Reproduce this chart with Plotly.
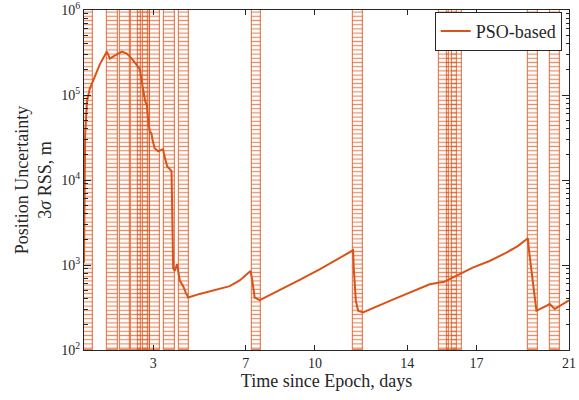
import plotly.graph_objects as go

# ---- data ----
days = [0.0, 0.02, 0.05, 0.13, 0.25, 0.38, 0.68, 0.99, 1.12, 1.33, 1.64, 1.85, 2.03, 2.24,
        2.42, 2.50, 2.57, 2.65, 2.72, 2.78, 2.85, 2.92, 2.98, 3.06, 3.21, 3.42, 3.52, 3.60,
        3.79, 3.86, 3.93, 4.03, 4.15, 4.29, 4.41, 4.51, 5.01, 5.66, 6.31, 6.74, 7.21, 7.29,
        7.39, 7.61, 8.48, 9.34, 10.20, 11.08, 11.65, 11.68, 11.77, 11.87, 12.08, 13.24,
        14.10, 14.97, 15.40, 15.57, 15.96, 16.83, 17.56, 18.29, 18.78, 19.22, 19.27, 19.59,
        20.17, 20.38, 20.96, 21.0]
pso = [1060, 5600, 34400, 84000, 119000, 144000, 228000, 324000, 268000, 291000, 324000,
       307000, 275000, 234000, 200000, 144000, 116000, 84000, 77400, 49000, 37300, 35400,
       28500, 23600, 21800, 23000, 17500, 14500, 12700, 923, 851, 1028, 650, 568, 470, 414,
       457, 509, 564, 659, 851, 650, 414, 386, 503, 668, 887, 1210, 1490, 931, 378, 289,
       276, 378, 476, 594, 621, 630, 711, 931, 1114, 1396, 1671, 2060, 1462, 289, 347, 303,
       378, 382]

win_start = [0.0, 1.01, 1.56, 2.05, 2.35, 2.57, 2.85, 3.45, 4.10, 7.26, 11.64, 15.36,
             15.71, 15.92, 19.21, 20.16]
win_end = [0.39, 1.48, 2.01, 2.46, 2.76, 2.85, 3.28, 3.93, 4.54, 7.68, 12.07, 15.79,
           16.14, 16.36, 19.64, 20.60]

x_ticks = [3, 7, 10, 14, 17, 21]
y_ticks = [1e2, 1e3, 1e4, 1e5, 1e6]
y_tick_text = ["10<sup>2</sup>", "10<sup>3</sup>", "10<sup>4</sup>", "10<sup>5</sup>",
               "10<sup>6</sup>"]
y_min, y_max = 1e2, 1e6

ORANGE = "#D95319"
FONT = "Liberation Serif, Times New Roman, serif"

fig = go.Figure()

centers = [(s + e) / 2 for s, e in zip(win_start, win_end)]
widths = [e - s for s, e in zip(win_start, win_end)]
fig.add_trace(go.Bar(
    x=centers, width=widths,
    y=[y_max - y_min] * len(centers), base=[y_min] * len(centers),
    marker=dict(color="rgba(217,83,25,0.7)",
                line=dict(color="rgba(217,83,25,0.7)", width=1.2),
                pattern=dict(shape="-", size=4.2, solidity=0.3,
                             fgcolor="rgba(217,83,25,0.65)", bgcolor="rgba(255,255,255,0)",
                             fillmode="replace")),
    showlegend=False, hoverinfo="skip",
))

fig.add_trace(go.Scatter(
    x=days, y=pso, mode="lines", name="PSO-based",
    line=dict(color=ORANGE, width=2),
))

axis_common = dict(
    showline=True, linecolor="#262626", linewidth=1, mirror="ticks",
    ticks="inside", tickcolor="#262626", showgrid=False, zeroline=False,
    automargin=False, ticklabeloverflow="allow",
    tickfont=dict(family=FONT, size=14, color="#262626"),
)

fig.update_layout(
    width=579, height=400,
    margin=dict(l=84, r=10, t=10, b=50),
    plot_bgcolor="white", paper_bgcolor="white",
    barmode="overlay", bargap=0,
    font=dict(family=FONT, color="#262626"),
    xaxis=dict(range=[0, 21], tickvals=x_ticks, ticklen=5,
               title=dict(text="Time since Epoch, days", font=dict(size=18), standoff=4),
               **axis_common),
    yaxis=dict(type="log", range=[2, 6], tickvals=y_ticks, ticktext=y_tick_text,
               ticklen=7,
               minor=dict(ticks="inside", ticklen=3.5, tickcolor="#262626",
                          tickvals=[m * 10 ** e for e in range(2, 6) for m in range(2, 10)]),
               title=dict(text="Position Uncertainty<br>3<i>σ</i> RSS, m", font=dict(size=18),
                          standoff=4),
               **axis_common),
    legend=dict(x=0.985, y=0.995, xanchor="right", yanchor="top",
                bgcolor="white", bordercolor="#262626", borderwidth=1,
                font=dict(family=FONT, size=18, color="#262626")),
)

fig.write_html("out.html", config={"displayModeBar": False},
               post_script="document.body.style.margin='0px';")
